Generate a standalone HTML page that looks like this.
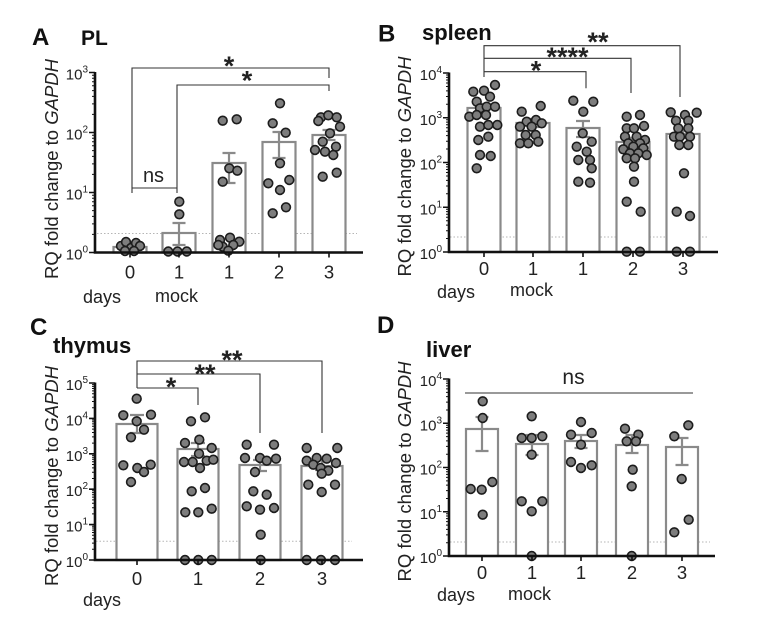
<!DOCTYPE html>
<html><head><meta charset="utf-8"><style>
html,body{margin:0;padding:0;background:#fff;}
svg{display:block;font-family:"Liberation Sans",Arial,sans-serif;}
.bar{fill:#fff;stroke:#8a8a8a;stroke-width:2.2}
.err{stroke:#8a8a8a;stroke-width:2.2;fill:none}
.pt circle{fill:#7d7d7d;stroke:#1c1c1c;stroke-width:1.6}
.ax{stroke:#111;stroke-width:2.6;fill:none}
.mj{stroke:#111;stroke-width:1.6;fill:none}
.mn{stroke:#111;stroke-width:1;fill:none}
.br{stroke:#333;stroke-width:1.1;fill:none}
.dot{stroke:#b5b5b5;stroke-width:1;stroke-dasharray:1.5 2;fill:none}
.tl{font-size:15px;fill:#222;text-anchor:end}
.xl{font-size:18.5px;fill:#222;text-anchor:middle}
.lab{font-size:18px;fill:#222}
.yl{font-size:18.5px;fill:#222;text-anchor:middle}
.ttl{font-weight:bold;fill:#111}
.star{font-size:27px;font-weight:bold;fill:#222;text-anchor:middle}
</style></head><body>
<svg width="762" height="618" viewBox="0 0 762 618" xmlns="http://www.w3.org/2000/svg">
<rect width="762" height="618" fill="#fff"/>

<!-- ================= PANEL A ================= -->
<text class="ttl" x="32" y="45" font-size="24">A</text>
<text class="ttl" x="81" y="45" font-size="21">PL</text>
<text class="yl" transform="translate(58,169) rotate(-90)">RQ fold change to <tspan font-style="italic">GAPDH</tspan></text>
<line class="dot" x1="97" y1="233.5" x2="357" y2="233.5"/>
<rect class="bar" x="113.5" y="247" width="33" height="5.5"/>
<rect class="bar" x="162.5" y="233" width="33" height="19.5"/>
<rect class="bar" x="212.5" y="163" width="33" height="89.5"/>
<rect class="bar" x="262.5" y="142" width="33" height="110.5"/>
<rect class="bar" x="312.5" y="135" width="33" height="117.5"/>
<path class="err" d="M130 244V249M124 244h12
M179 223V245M172.5 223h13M172.5 245h13
M229 153V183M222.5 153h13M222.5 183h13
M279 132V158M272.5 132h13M272.5 158h13
M329 130V140M322.5 130h13M322.5 140h13"/>
<g class="pt">
<circle cx="121" cy="246" r="4.4"/><circle cx="126" cy="242" r="4.4"/><circle cx="131" cy="248" r="4.4"/><circle cx="136" cy="243" r="4.4"/><circle cx="140" cy="246" r="4.4"/><circle cx="125" cy="251" r="4.4"/><circle cx="134" cy="251" r="4.4"/>
<circle cx="179.3" cy="201.7" r="4.4"/><circle cx="179.3" cy="214.3" r="4.4"/><circle cx="168.3" cy="251.5" r="4.4"/><circle cx="177.5" cy="251.5" r="4.4"/><circle cx="186.7" cy="251.5" r="4.4"/>
<circle cx="222.7" cy="120.7" r="4.4"/><circle cx="236.7" cy="119.3" r="4.4"/><circle cx="229.3" cy="168.3" r="4.4"/><circle cx="237.3" cy="170.7" r="4.4"/><circle cx="222.7" cy="181.7" r="4.4"/><circle cx="220" cy="240" r="4.4"/><circle cx="230" cy="237.7" r="4.4"/><circle cx="239.3" cy="241.7" r="4.4"/><circle cx="222.7" cy="246.7" r="4.4"/><circle cx="233.3" cy="245" r="4.4"/><circle cx="228.3" cy="250.7" r="4.4"/><circle cx="218.3" cy="245" r="4.4"/>
<circle cx="280" cy="103.3" r="4.4"/><circle cx="272.7" cy="123.3" r="4.4"/><circle cx="285.7" cy="132.7" r="4.4"/><circle cx="280" cy="163.3" r="4.4"/><circle cx="268.3" cy="183.3" r="4.4"/><circle cx="289.3" cy="180" r="4.4"/><circle cx="280" cy="190" r="4.4"/><circle cx="272.7" cy="213.3" r="4.4"/><circle cx="286" cy="207.3" r="4.4"/>
<circle cx="321" cy="117.3" r="4.4"/><circle cx="328.3" cy="115.3" r="4.4"/><circle cx="336.7" cy="117.3" r="4.4"/><circle cx="340" cy="126.7" r="4.4"/><circle cx="318.3" cy="121" r="4.4"/><circle cx="330" cy="133.3" r="4.4"/><circle cx="322.7" cy="141.7" r="4.4"/><circle cx="336" cy="146.7" r="4.4"/><circle cx="315" cy="150" r="4.4"/><circle cx="325" cy="151.7" r="4.4"/><circle cx="333.3" cy="155" r="4.4"/><circle cx="322.7" cy="176.7" r="4.4"/><circle cx="336.7" cy="172.7" r="4.4"/>
</g>
<path class="ax" d="M95 72V253.8M93.7 252.5H363"/>
<path class="mj" d="M89 72.5h6M89 132.5h6M89 192.5h6M89 252.5h6M130 252.5v5M179 252.5v5M229 252.5v5M279 252.5v5M329 252.5v5"/>
<path class="mn" d="M92 234.4h3M92 223.9h3M92 216.4h3M92 210.6h3M92 205.8h3M92 201.8h3M92 198.3h3M92 195.2h3
M92 174.4h3M92 163.9h3M92 156.4h3M92 150.6h3M92 145.8h3M92 141.8h3M92 138.3h3M92 135.2h3
M92 114.4h3M92 103.9h3M92 96.4h3M92 90.6h3M92 85.8h3M92 81.8h3M92 78.3h3M92 75.2h3"/>
<text class="tl" x="88" y="79.5">10<tspan font-size="10" dy="-7">3</tspan></text>
<text class="tl" x="88" y="139.5">10<tspan font-size="10" dy="-7">2</tspan></text>
<text class="tl" x="88" y="199.5">10<tspan font-size="10" dy="-7">1</tspan></text>
<text class="tl" x="88" y="259.5">10<tspan font-size="10" dy="-7">0</tspan></text>
<text class="xl" x="130" y="278.5">0</text><text class="xl" x="179" y="278.5">1</text><text class="xl" x="229" y="278.5">1</text><text class="xl" x="279" y="278.5">2</text><text class="xl" x="329" y="278.5">3</text>
<text class="lab" x="83" y="303">days</text><text class="lab" x="155" y="302">mock</text>
<path class="br" d="M132 193V68H329V78M132 188H177V193M177 193V85H329V91"/>
<text class="star" x="229" y="75">*</text>
<text class="star" x="247" y="89.5">*</text>
<text x="153.5" y="182" font-size="20" fill="#222" text-anchor="middle">ns</text>

<!-- ================= PANEL B ================= -->
<text class="ttl" x="378" y="41.7" font-size="24">B</text>
<text class="ttl" x="422" y="40" font-size="22">spleen</text>
<text class="yl" transform="translate(411,166.5) rotate(-90)">RQ fold change to <tspan font-style="italic">GAPDH</tspan></text>
<line class="dot" x1="450" y1="237" x2="708" y2="237"/>
<rect class="bar" x="467.5" y="108" width="33" height="144"/>
<rect class="bar" x="516.5" y="123" width="33" height="129"/>
<rect class="bar" x="566.5" y="128" width="33" height="124"/>
<rect class="bar" x="616.5" y="142" width="33" height="110"/>
<rect class="bar" x="666.5" y="134" width="33" height="118"/>
<path class="err" d="M484 104V113M477.5 104h13M477.5 113h13
M533 119V127M526.5 119h13M526.5 127h13
M583 121V137M576 121h14M576 137h14
M633 138V146M626.5 138h13M626.5 146h13
M683 130V138M676.5 130h13M676.5 138h13"/>
<g class="pt">
<circle cx="473.3" cy="91.7" r="4.4"/><circle cx="484" cy="90.7" r="4.4"/><circle cx="495" cy="85" r="4.4"/><circle cx="476.7" cy="101.7" r="4.4"/><circle cx="490" cy="96.7" r="4.4"/><circle cx="480" cy="108.3" r="4.4"/><circle cx="486.7" cy="106.7" r="4.4"/><circle cx="495" cy="106.7" r="4.4"/><circle cx="469.3" cy="116.7" r="4.4"/><circle cx="476.7" cy="115" r="4.4"/><circle cx="486" cy="115" r="4.4"/><circle cx="480" cy="126.7" r="4.4"/><circle cx="488.3" cy="125" r="4.4"/><circle cx="497.3" cy="125" r="4.4"/><circle cx="478.3" cy="140" r="4.4"/><circle cx="488.3" cy="136.7" r="4.4"/><circle cx="480" cy="155" r="4.4"/><circle cx="490.7" cy="156" r="4.4"/><circle cx="476.7" cy="168.3" r="4.4"/>
<circle cx="521.7" cy="111.7" r="4.4"/><circle cx="540.7" cy="106" r="4.4"/><circle cx="526.7" cy="121.7" r="4.4"/><circle cx="536" cy="120" r="4.4"/><circle cx="520" cy="126.7" r="4.4"/><circle cx="531.7" cy="126.7" r="4.4"/><circle cx="541.7" cy="123.3" r="4.4"/><circle cx="525.7" cy="135" r="4.4"/><circle cx="535.7" cy="135" r="4.4"/><circle cx="520" cy="143.3" r="4.4"/><circle cx="538.3" cy="141.7" r="4.4"/><circle cx="528.3" cy="143.3" r="4.4"/>
<circle cx="573.3" cy="100.7" r="4.4"/><circle cx="593.3" cy="101.7" r="4.4"/><circle cx="583.3" cy="111.7" r="4.4"/><circle cx="582.7" cy="133.3" r="4.4"/><circle cx="591.7" cy="141.7" r="4.4"/><circle cx="576.7" cy="146.7" r="4.4"/><circle cx="586.7" cy="151.7" r="4.4"/><circle cx="578.3" cy="160" r="4.4"/><circle cx="590" cy="160" r="4.4"/><circle cx="591.7" cy="168.3" r="4.4"/><circle cx="578.3" cy="181.7" r="4.4"/><circle cx="590" cy="182.7" r="4.4"/>
<circle cx="626.7" cy="116.7" r="4.4"/><circle cx="640" cy="115" r="4.4"/><circle cx="644" cy="126" r="4.4"/><circle cx="626.7" cy="128.3" r="4.4"/><circle cx="634" cy="128.3" r="4.4"/><circle cx="625" cy="136.7" r="4.4"/><circle cx="636.7" cy="136.7" r="4.4"/><circle cx="645" cy="140" r="4.4"/><circle cx="628.3" cy="143.3" r="4.4"/><circle cx="640" cy="143.3" r="4.4"/><circle cx="623.3" cy="149.3" r="4.4"/><circle cx="643.3" cy="148.3" r="4.4"/><circle cx="633.3" cy="146.7" r="4.4"/><circle cx="630" cy="153.3" r="4.4"/><circle cx="638.3" cy="153.3" r="4.4"/><circle cx="646.7" cy="155" r="4.4"/><circle cx="626.7" cy="158.3" r="4.4"/><circle cx="635" cy="158.3" r="4.4"/><circle cx="634" cy="166.7" r="4.4"/><circle cx="634" cy="181.7" r="4.4"/><circle cx="626.7" cy="201.7" r="4.4"/><circle cx="640.7" cy="211.7" r="4.4"/><circle cx="626.7" cy="251.7" r="4.4"/><circle cx="640" cy="251.7" r="4.4"/>
<circle cx="670.7" cy="112.3" r="4.4"/><circle cx="696.7" cy="112.7" r="4.4"/><circle cx="685" cy="115" r="4.4"/><circle cx="676" cy="120.7" r="4.4"/><circle cx="688.3" cy="120.7" r="4.4"/><circle cx="678.3" cy="128.3" r="4.4"/><circle cx="688.3" cy="128.3" r="4.4"/><circle cx="674" cy="136.7" r="4.4"/><circle cx="680" cy="136.7" r="4.4"/><circle cx="690" cy="136.7" r="4.4"/><circle cx="679.3" cy="145" r="4.4"/><circle cx="688.3" cy="145" r="4.4"/><circle cx="684" cy="173.3" r="4.4"/><circle cx="676.7" cy="211.7" r="4.4"/><circle cx="690" cy="216" r="4.4"/><circle cx="676.7" cy="251.7" r="4.4"/><circle cx="690" cy="251.7" r="4.4"/>
</g>
<path class="ax" d="M449 72.5V253.3M447.7 252H718"/>
<path class="mj" d="M443 73h6M443 117.75h6M443 162.5h6M443 207.25h6M443 252h6M484 252v5M533 252v5M583 252v5M633 252v5M683 252v5"/>
<path class="mn" d="M446 238.5h3M446 230.7h3M446 225.1h3M446 220.7h3M446 217.2h3M446 214.2h3M446 211.6h3M446 209.3h3
M446 193.75h3M446 185.95h3M446 180.35h3M446 175.95h3M446 172.45h3M446 169.45h3M446 166.85h3M446 164.55h3
M446 149h3M446 141.2h3M446 135.6h3M446 131.2h3M446 127.7h3M446 124.7h3M446 122.1h3M446 119.8h3
M446 104.25h3M446 96.45h3M446 90.85h3M446 86.45h3M446 82.95h3M446 79.95h3M446 77.35h3M446 75.05h3"/>
<text class="tl" x="442" y="80">10<tspan font-size="10" dy="-7">4</tspan></text>
<text class="tl" x="442" y="124.75">10<tspan font-size="10" dy="-7">3</tspan></text>
<text class="tl" x="442" y="169.5">10<tspan font-size="10" dy="-7">2</tspan></text>
<text class="tl" x="442" y="214.25">10<tspan font-size="10" dy="-7">1</tspan></text>
<text class="tl" x="442" y="259">10<tspan font-size="10" dy="-7">0</tspan></text>
<text class="xl" x="484" y="275">0</text><text class="xl" x="533" y="275">1</text><text class="xl" x="583" y="275">1</text><text class="xl" x="633" y="275">2</text><text class="xl" x="683" y="275">3</text>
<text class="lab" x="437" y="298">days</text><text class="lab" x="510" y="296">mock</text>
<path class="br" d="M484 77V45.7H680V97M484 58.3H631V93M484 71.7H586V88.3"/>
<text class="star" x="598" y="51">**</text>
<text class="star" x="567.5" y="66">****</text>
<text class="star" x="536" y="79.5">*</text>

<!-- ================= PANEL C ================= -->
<text class="ttl" x="30" y="335" font-size="24">C</text>
<text class="ttl" x="53" y="353" font-size="22">thymus</text>
<text class="yl" transform="translate(58,476) rotate(-90)">RQ fold change to <tspan font-style="italic">GAPDH</tspan></text>
<line class="dot" x1="96" y1="541.3" x2="352" y2="541.3"/>
<rect class="bar" x="116.5" y="424" width="41" height="136"/>
<rect class="bar" x="177.5" y="449" width="41" height="111"/>
<rect class="bar" x="239.5" y="465" width="41" height="95"/>
<rect class="bar" x="301.5" y="466" width="41" height="94"/>
<path class="err" d="M137 415V433M130 415h14M130 433h14
M198 443V456M191 443h14M191 456h14
M260 460V471M253 460h14M253 471h14
M322 460V470M315 460h14M315 470h14"/>
<g class="pt">
<circle cx="136.7" cy="398.7" r="4.4"/><circle cx="123.3" cy="415.3" r="4.4"/><circle cx="151" cy="414.7" r="4.4"/><circle cx="136.7" cy="421.3" r="4.4"/><circle cx="144" cy="429.7" r="4.4"/><circle cx="131" cy="437.3" r="4.4"/><circle cx="123.3" cy="465.3" r="4.4"/><circle cx="137.3" cy="468" r="4.4"/><circle cx="150.7" cy="464.7" r="4.4"/><circle cx="144" cy="472" r="4.4"/><circle cx="131" cy="482" r="4.4"/>
<circle cx="191" cy="421.3" r="4.4"/><circle cx="205" cy="417.3" r="4.4"/><circle cx="199.3" cy="439.7" r="4.4"/><circle cx="185" cy="443" r="4.4"/><circle cx="211.7" cy="448" r="4.4"/><circle cx="199" cy="453.7" r="4.4"/><circle cx="184" cy="462" r="4.4"/><circle cx="192.7" cy="462" r="4.4"/><circle cx="206.7" cy="460.7" r="4.4"/><circle cx="213.3" cy="459.7" r="4.4"/><circle cx="200" cy="468" r="4.4"/><circle cx="191.7" cy="491.3" r="4.4"/><circle cx="205" cy="488" r="4.4"/><circle cx="185.3" cy="512.3" r="4.4"/><circle cx="198.3" cy="512.3" r="4.4"/><circle cx="211.7" cy="508.7" r="4.4"/><circle cx="185" cy="560" r="4.4"/><circle cx="198.3" cy="560" r="4.4"/><circle cx="211.7" cy="560" r="4.4"/>
<circle cx="246.7" cy="444.7" r="4.4"/><circle cx="274" cy="444.7" r="4.4"/><circle cx="245" cy="458" r="4.4"/><circle cx="260" cy="458" r="4.4"/><circle cx="266.7" cy="460.7" r="4.4"/><circle cx="276" cy="458.7" r="4.4"/><circle cx="255" cy="472" r="4.4"/><circle cx="253.3" cy="491.3" r="4.4"/><circle cx="266.7" cy="494.7" r="4.4"/><circle cx="246.7" cy="506.3" r="4.4"/><circle cx="260" cy="509.7" r="4.4"/><circle cx="274" cy="508" r="4.4"/><circle cx="260.7" cy="534.7" r="4.4"/><circle cx="260.7" cy="560" r="4.4"/>
<circle cx="306.7" cy="448" r="4.4"/><circle cx="337.3" cy="448" r="4.4"/><circle cx="306.7" cy="460.7" r="4.4"/><circle cx="316.7" cy="458" r="4.4"/><circle cx="326.7" cy="458.7" r="4.4"/><circle cx="336" cy="463" r="4.4"/><circle cx="313.3" cy="464.7" r="4.4"/><circle cx="320.7" cy="468" r="4.4"/><circle cx="328.3" cy="470.7" r="4.4"/><circle cx="321.7" cy="473.7" r="4.4"/><circle cx="308.3" cy="484.7" r="4.4"/><circle cx="321.7" cy="492" r="4.4"/><circle cx="335" cy="484.7" r="4.4"/><circle cx="306.7" cy="560" r="4.4"/><circle cx="321" cy="560" r="4.4"/><circle cx="335" cy="560" r="4.4"/>
</g>
<path class="ax" d="M95 382.5V561.3M93.7 560H363"/>
<path class="mj" d="M89 383h6M89 418.4h6M89 453.8h6M89 489.2h6M89 524.6h6M89 560h6M137 560v5M198 560v5M260 560v5M322 560v5"/>
<path class="mn" d="M92 549.3h3M92 543.1h3M92 538.7h3M92 535.3h3M92 532.5h3M92 530.1h3M92 528h3M92 526.2h3
M92 513.9h3M92 507.7h3M92 503.3h3M92 499.9h3M92 497.1h3M92 494.7h3M92 492.6h3M92 490.8h3
M92 478.5h3M92 472.3h3M92 467.9h3M92 464.5h3M92 461.7h3M92 459.3h3M92 457.2h3M92 455.4h3
M92 443.1h3M92 436.9h3M92 432.5h3M92 429.1h3M92 426.3h3M92 423.9h3M92 421.8h3M92 420h3
M92 407.7h3M92 401.5h3M92 397.1h3M92 393.7h3M92 390.9h3M92 388.5h3M92 386.4h3M92 384.6h3"/>
<text class="tl" x="88" y="390">10<tspan font-size="10" dy="-7">5</tspan></text>
<text class="tl" x="88" y="425.4">10<tspan font-size="10" dy="-7">4</tspan></text>
<text class="tl" x="88" y="460.8">10<tspan font-size="10" dy="-7">3</tspan></text>
<text class="tl" x="88" y="496.2">10<tspan font-size="10" dy="-7">2</tspan></text>
<text class="tl" x="88" y="531.6">10<tspan font-size="10" dy="-7">1</tspan></text>
<text class="tl" x="88" y="567">10<tspan font-size="10" dy="-7">0</tspan></text>
<text class="xl" x="137" y="585">0</text><text class="xl" x="198" y="585">1</text><text class="xl" x="260" y="585">2</text><text class="xl" x="322" y="585">3</text>
<text class="lab" x="83" y="606">days</text>
<path class="br" d="M137 388V361H322V433M137 374H260V433M137 388H198V405"/>
<text class="star" x="232" y="369">**</text>
<text class="star" x="205" y="383">**</text>
<text class="star" x="171" y="396">*</text>

<!-- ================= PANEL D ================= -->
<text class="ttl" x="377" y="333" font-size="24">D</text>
<text class="ttl" x="426" y="357" font-size="22">liver</text>
<text class="yl" transform="translate(411,471.5) rotate(-90)">RQ fold change to <tspan font-style="italic">GAPDH</tspan></text>
<line class="dot" x1="450" y1="542" x2="710" y2="542"/>
<rect class="bar" x="466" y="429" width="32" height="127"/>
<rect class="bar" x="516" y="444" width="32" height="112"/>
<rect class="bar" x="565" y="441" width="32" height="115"/>
<rect class="bar" x="616" y="445" width="32" height="111"/>
<rect class="bar" x="666" y="447" width="32" height="109"/>
<path class="err" d="M482 417V451M475.5 417h13M475.5 451h13
M532 435V455M525.5 435h13M525.5 455h13
M581 435V448M574.5 435h13M574.5 448h13
M632 435V453M625.5 435h13M625.5 453h13
M682 438V465M675.5 438h13M675.5 465h13"/>
<g class="pt">
<circle cx="482.7" cy="401.3" r="4.4"/><circle cx="482.7" cy="418" r="4.4"/><circle cx="470.7" cy="489" r="4.4"/><circle cx="481.7" cy="489.7" r="4.4"/><circle cx="492.3" cy="482" r="4.4"/><circle cx="482.7" cy="514.7" r="4.4"/>
<circle cx="531.7" cy="416.3" r="4.4"/><circle cx="521.7" cy="438" r="4.4"/><circle cx="531.7" cy="438" r="4.4"/><circle cx="542.3" cy="436.3" r="4.4"/><circle cx="531.7" cy="454.7" r="4.4"/><circle cx="521.7" cy="501.3" r="4.4"/><circle cx="542.3" cy="501.3" r="4.4"/><circle cx="531.7" cy="511.3" r="4.4"/><circle cx="531.7" cy="556" r="4.4"/>
<circle cx="581" cy="422" r="4.4"/><circle cx="571" cy="434.7" r="4.4"/><circle cx="591.7" cy="433" r="4.4"/><circle cx="581" cy="444.7" r="4.4"/><circle cx="571" cy="462" r="4.4"/><circle cx="581" cy="468" r="4.4"/><circle cx="591.7" cy="465.3" r="4.4"/>
<circle cx="625" cy="428.7" r="4.4"/><circle cx="638.3" cy="434.7" r="4.4"/><circle cx="626.7" cy="441.3" r="4.4"/><circle cx="636" cy="441.3" r="4.4"/><circle cx="632.7" cy="469.7" r="4.4"/><circle cx="631.7" cy="486.3" r="4.4"/><circle cx="631.7" cy="556" r="4.4"/>
<circle cx="688.3" cy="425.3" r="4.4"/><circle cx="674.3" cy="436.3" r="4.4"/><circle cx="681.7" cy="479" r="4.4"/><circle cx="688.7" cy="519.7" r="4.4"/><circle cx="674.3" cy="532.3" r="4.4"/>
</g>
<path class="ax" d="M449 378.5V557.3M447.7 556H715"/>
<path class="mj" d="M443 379h6M443 423.25h6M443 467.5h6M443 511.75h6M443 556h6M482 556v5M532 556v5M581 556v5M632 556v5M682 556v5"/>
<path class="mn" d="M446 542.7h3M446 534.9h3M446 529.4h3M446 525.1h3M446 521.6h3M446 518.6h3M446 516h3M446 513.8h3
M446 498.45h3M446 490.65h3M446 485.15h3M446 480.85h3M446 477.35h3M446 474.35h3M446 471.75h3M446 469.55h3
M446 454.2h3M446 446.4h3M446 440.9h3M446 436.6h3M446 433.1h3M446 430.1h3M446 427.5h3M446 425.3h3
M446 409.95h3M446 402.15h3M446 396.65h3M446 392.35h3M446 388.85h3M446 385.85h3M446 383.25h3M446 381.05h3"/>
<text class="tl" x="442" y="386">10<tspan font-size="10" dy="-7">4</tspan></text>
<text class="tl" x="442" y="430.25">10<tspan font-size="10" dy="-7">3</tspan></text>
<text class="tl" x="442" y="474.5">10<tspan font-size="10" dy="-7">2</tspan></text>
<text class="tl" x="442" y="518.75">10<tspan font-size="10" dy="-7">1</tspan></text>
<text class="tl" x="442" y="563">10<tspan font-size="10" dy="-7">0</tspan></text>
<text class="xl" x="482" y="579">0</text><text class="xl" x="532" y="579">1</text><text class="xl" x="581" y="579">1</text><text class="xl" x="632" y="579">2</text><text class="xl" x="682" y="579">3</text>
<text class="lab" x="437" y="601">days</text><text class="lab" x="508" y="600">mock</text>
<line class="br" x1="465" y1="393" x2="693" y2="393"/>
<text x="573.5" y="384" font-size="21" fill="#222" text-anchor="middle">ns</text>
</svg>
</body></html>
